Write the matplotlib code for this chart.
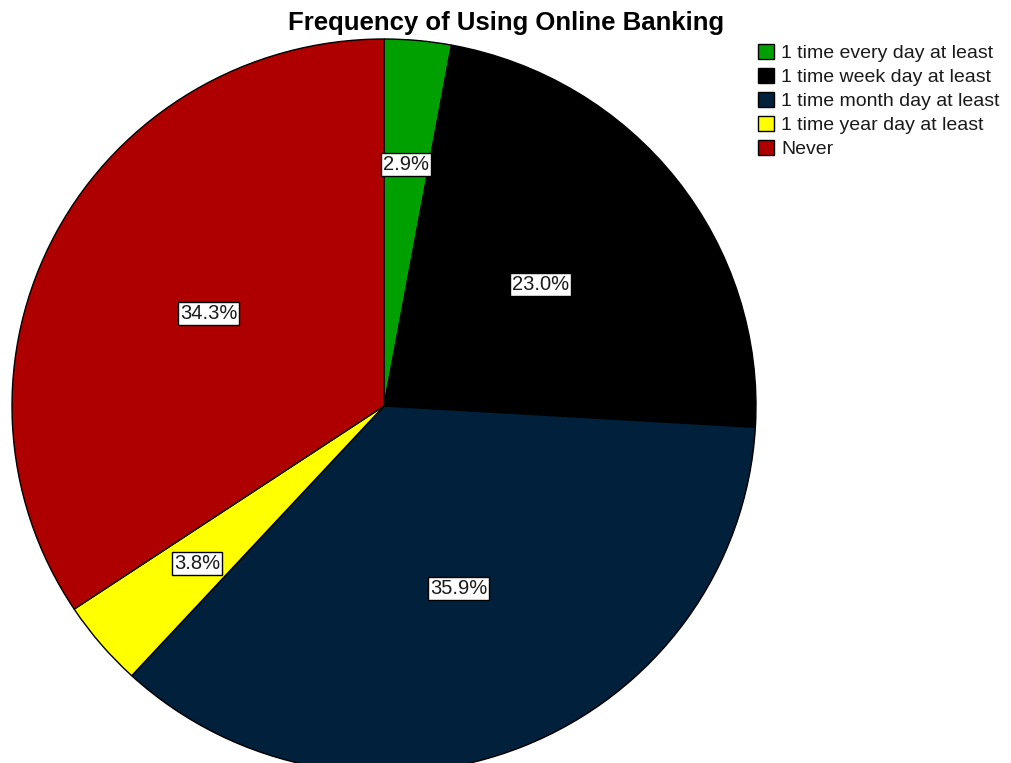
import numpy as np
import matplotlib.pyplot as plt

plt.rcParams['font.family'] = ['Liberation Sans', 'DejaVu Sans']

# share of respondents by how often they use online banking (%)
categories = ["1 time every day at least", "1 time week day at least",
              "1 time month day at least", "1 time year day at least", "Never"]
shares = [2.9, 23.0, 35.9, 3.8, 34.3]
colors = ["#00A000", "#000000", "#00203B", "#FFFF00", "#AF0000"]

fig = plt.figure(figsize=(10.12, 7.63), dpi=100)
ax = fig.add_axes([0, 0, 1, 1])

wedges, _ = ax.pie(shares, colors=colors, startangle=90, counterclock=False,
                   wedgeprops=dict(edgecolor="black", linewidth=1.0))

# percentage labels: small slices get pushed further out
total = sum(shares)
cum = 0.0
for val in shares:
    mid = np.deg2rad(90 - (cum + val / 2) / total * 360)
    cum += val
    r = 0.66 if val < 5 else 0.535
    ax.text(r * np.cos(mid), r * np.sin(mid), f"{val:.1f}%", ha="center", va="center",
            fontsize=14.5, color="#1a1a1a",
            bbox=dict(boxstyle="square,pad=0.1", facecolor="white",
                      edgecolor="black", linewidth=1.0))

# place the pie in pixel terms: centre at (384, 406) from top-left
W, H = 1012, 763
cx, cy = 384, 406
rx, ry = 372, 367
ax.set_xlim(-cx / rx, (W - cx) / rx)
ax.set_ylim(-(H - cy) / ry, cy / ry)
ax.set_aspect("auto")
ax.axis("off")

fig.text(506 / W, 1 - 23 / H, "Frequency of Using Online Banking", ha="center", va="center",
         fontsize=18.5, fontweight="bold")

fig.legend(wedges, categories, loc="upper left", bbox_to_anchor=(754 / W, 1 - 40 / H),
           frameon=False, fontsize=14, handlelength=0.85, handleheight=0.82,
           handletextpad=0.35, labelspacing=0.29, borderaxespad=0, borderpad=0.2,
           labelcolor="#1a1a1a")

fig.savefig("out.png", dpi=100)
